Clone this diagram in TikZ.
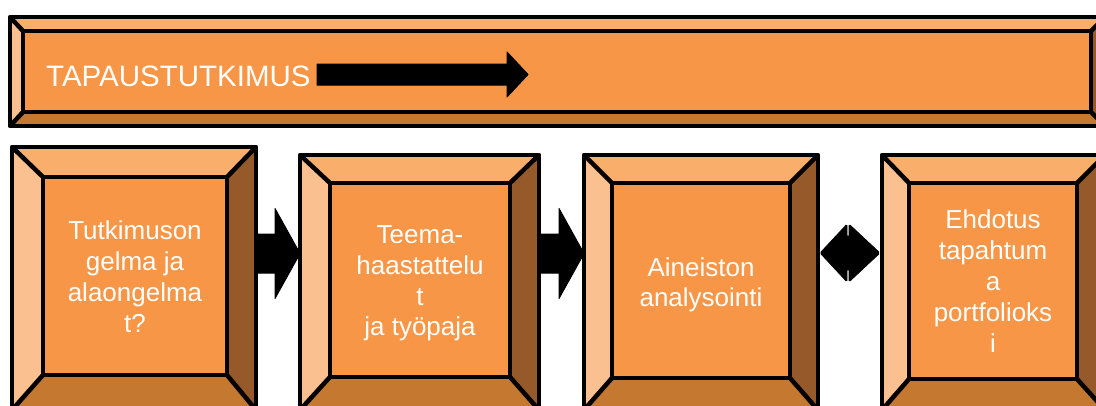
\documentclass[tikz,border=0pt]{standalone}
\usepackage{fontspec}
\setmainfont{Liberation Sans}
\usetikzlibrary{calc}
\definecolor{main}{HTML}{F79646}
\definecolor{btop}{HTML}{F9AE6B}
\definecolor{bleft}{HTML}{FAC08F}
\definecolor{bbot}{HTML}{C5782F}
\definecolor{bright}{HTML}{965A2A}
\tikzset{
  outline/.style={draw=black, line width=4.5pt, line join=round},
  face/.style={fill=main, draw=black, line width=4.5pt, inner sep=0pt},
  boxtext/.style={text=white, align=center, inner sep=0pt, font=\fontsize{26}{30.8}\selectfont},
  titletext/.style={text=white, inner sep=0pt, font=\fontsize{29.5}{35}\selectfont},
  blockarrow/.style={fill=black, draw=black, line width=1pt, line join=round},
}
% name, outer x1,y1,x2,y2, inner x1,y1,x2,y2
\newcommand\bevelbox[9]{%
  \coordinate (#1-onw) at (#2,#3); \coordinate (#1-one) at (#4,#3);
  \coordinate (#1-osw) at (#2,#5); \coordinate (#1-ose) at (#4,#5);
  \coordinate (#1-inw) at (#6,#7); \coordinate (#1-ine) at (#8,#7);
  \coordinate (#1-isw) at (#6,#9); \coordinate (#1-ise) at (#8,#9);
  \fill[btop] (#1-onw) -- (#1-one) -- (#1-ine) -- (#1-inw) -- cycle;
  \fill[bleft] (#1-onw) -- (#1-inw) -- (#1-isw) -- (#1-osw) -- cycle;
  \fill[bbot] (#1-osw) -- (#1-isw) -- (#1-ise) -- (#1-ose) -- cycle;
  \fill[bright] (#1-one) -- (#1-ose) -- (#1-ise) -- (#1-ine) -- cycle;
  \draw[outline] (#1-onw) -- (#1-inw) (#1-one) -- (#1-ine) (#1-osw) -- (#1-isw) (#1-ose) -- (#1-ise);
  \draw[outline] (#1-onw) rectangle (#1-ose);
  \node[face, minimum width={#8pt-#6pt}, minimum height={#9pt-#7pt}] (#1) at ($(#1-inw)!0.5!(#1-ise)$) {};
}
% start, tip, head length, shaft half-height, head half-height
\newcommand\blockarrow[5]{%
  \path[blockarrow] ($(#1)+(0,#4)$) -- ($(#2)+(-#3,#4)$) -- ($(#2)+(-#3,#5)$) -- (#2)
    -- ($(#2)+(-#3,-#5)$) -- ($(#2)+(-#3,-#4)$) -- ($(#1)+(0,-#4)$) -- cycle;
}
\begin{document}
\begin{tikzpicture}[x=1pt, y=-1pt]
\useasboundingbox (0,0) rectangle (1096,405);
\fill[white] (0,0) rectangle (1096,405);
\begin{scope}
\clip (0,0) rectangle (1096,405);
% banner
\bevelbox{ban}{10}{17}{1105}{126}{23}{31}{1091}{112}
\node[titletext, anchor=base west] (title) at (46,86) {TAPAUSTUTKIMUS};
\coordinate (ta) at (317,74.5);
\coordinate (tb) at (528,74.5);
\blockarrow{ta}{tb}{21}{10.5}{22.5}
% boxes
\bevelbox{b1}{12}{147}{256}{410}{43}{177}{227}{375}
\bevelbox{b2}{300}{155}{539}{410}{330}{183}{510}{377}
\bevelbox{b3}{584}{155}{818}{410}{612}{183}{790}{378}
\bevelbox{b4}{882}{155}{1105}{410}{909}{183}{1077}{379}
\node[boxtext] (t1) at (135,276.7) {Tutkimuson\\gelma ja\\alaongelma\\t?};
\node[boxtext] (t2) at (420,283.5) {Teema-\\haastattelu\\t\\ja työpaja};
\node[boxtext] (t3) at (701,284.7) {Aineiston\\analysointi};
\node[boxtext] (t4) at (993,281.1) {Ehdotus\\tapahtum\\a\\portfolioks\\i};
% connectors
\coordinate (a1s) at (b1-ose |- 0,253.5);
\coordinate (a1t) at (b2-osw |- 0,253.5);
\blockarrow{a1s}{a1t}{25}{19.5}{45}
\coordinate (a2s) at (b2-ose |- 0,253.5);
\coordinate (a2t) at (b3-osw |- 0,253.5);
\blockarrow{a2s}{a2t}{25}{19.5}{45}
\coordinate (d1) at (b3-ose |- 0,253);
\coordinate (d2) at (b4-osw |- 0,253);
\path[blockarrow, line width=0.6pt, rounded corners=1.5pt]
  ($(d1)+(2,0)$) -- ($(d1)+(29,-29)$) -- ($(d1)+(29,-16)$) -- ($(d1)+(31,-16)$) -- ($(d1)+(31,-29)$)
  -- ($(d2)+(-2,0)$) -- ($(d1)+(31,29)$) -- ($(d1)+(31,16)$) -- ($(d1)+(29,16)$) -- ($(d1)+(29,29)$) -- cycle;
\end{scope}
\end{tikzpicture}
\end{document}
